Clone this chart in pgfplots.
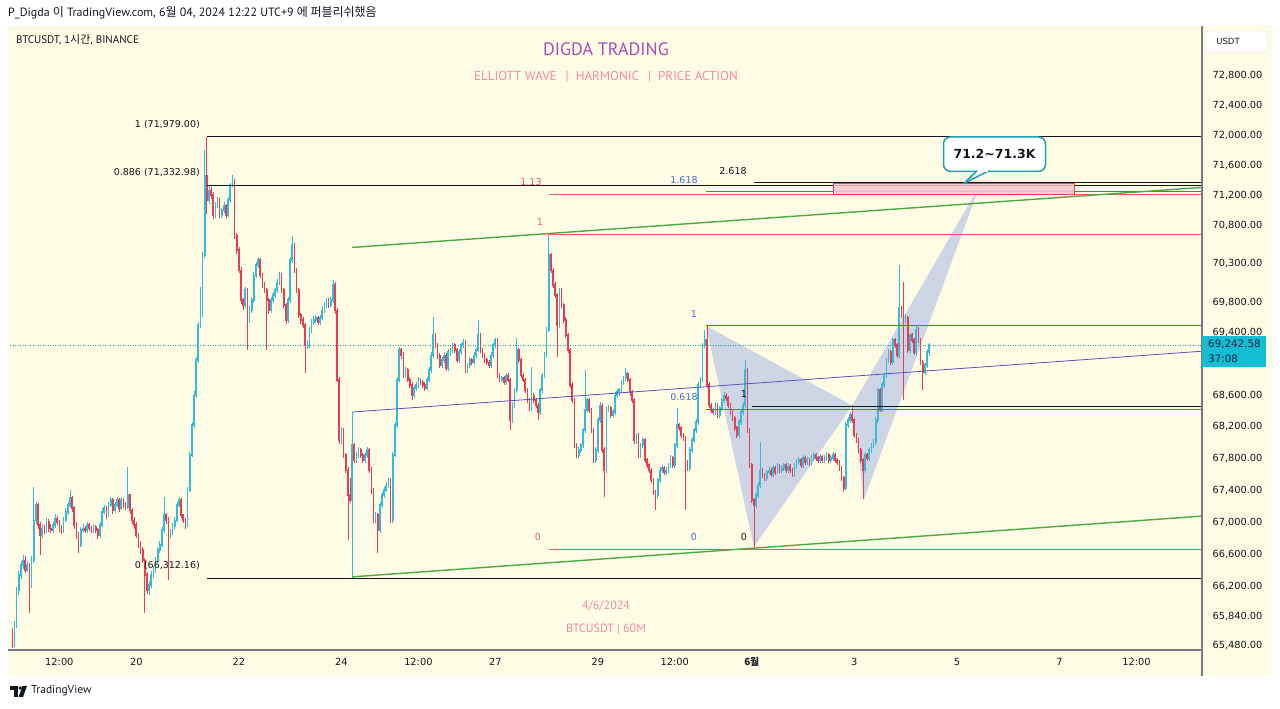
\documentclass[border=0pt]{standalone}
\usepackage{pgfplots}
\pgfplotsset{compat=1.18}
\usepackage{pgfplotstable}
\usepackage{fontspec}
\setmainfont{PT Sans}
\newfontfamily\dejavu{DejaVu Sans}
\newfontfamily\cjk{Noto Sans CJK KR}

\definecolor{cream}{RGB}{254,252,228}
\definecolor{upc}{RGB}{54,188,216}
\definecolor{dnc}{RGB}{230,62,84}
\definecolor{ink}{RGB}{19,23,34}
\definecolor{axgray}{RGB}{120,123,134}
\definecolor{fibred}{RGB}{232,96,112}
\definecolor{fibblue}{RGB}{70,110,215}
\definecolor{chgreen}{RGB}{76,170,70}
\definecolor{purp}{RGB}{90,80,190}
\definecolor{harm}{RGB}{190,200,230}
\definecolor{tealc}{RGB}{34,160,178}
\definecolor{pricebox}{RGB}{20,188,212}
\definecolor{priceink}{RGB}{18,38,58}
\definecolor{titlec}{RGB}{166,78,180}
\definecolor{pinkc}{RGB}{240,140,165}
\definecolor{zonefill}{RGB}{248,196,206}
\definecolor{zonedraw}{RGB}{214,70,100}

\newcommand\nf{\dejavu\fontsize{9.5}{11}\selectfont}
\newcommand\af{\dejavu\fontsize{9.8}{11}\selectfont}
\def\nanstr{nan}

% hourly candles, t = hours from 20 May 00:00
\pgfplotstableread{
t o hi lo c
-58 65640 65700 65450 65500
-57 65500 65780 65460 65730
-56 65730 66200 65700 66159
-55 66159 66400 66100 66344
-54 66344 66520 66300 66467
-53 66467 66600 66420 66529
-52 66529 66580 66360 66405
-51 66405 66520 66380 66467
-50 66467 66500 65877 66220
-49 66220 66580 66180 66529
-48 66529 67438 66500 67025
-47 67025 67260 66980 67212
-46 67212 67240 66920 66963
-45 66963 67000 66591 66839
-44 66839 66980 66800 66926
-43 66926 66960 66850 66901
-42 66901 67050 66870 67000
-41 67000 67040 66880 66926
-40 66926 66970 66860 66901
-39 66901 67010 66870 66963
-38 66963 67100 66930 67050
-37 67050 67080 66960 67000
-36 67000 67030 66880 66926
-35 66926 66960 66850 66901
-34 66901 67070 66870 67025
-33 67025 67170 67000 67125
-32 67125 67260 67090 67212
-31 67212 67400 67180 67300
-30 67300 67330 67130 67175
-29 67175 67200 66920 66963
-28 66963 67000 66790 66839
-27 66839 66880 66616 66715
-26 66715 66940 66690 66901
-25 66901 66980 66880 66926
-24 66926 66950 66860 66901
-23 66901 67010 66870 66963
-22 66963 66990 66890 66926
-21 66926 66950 66860 66901
-20 66901 66980 66870 66938
-19 66938 66960 66860 66901
-18 66901 66930 66790 66839
-17 66839 67000 66810 66963
-16 66963 67170 66940 67125
-15 67125 67220 67100 67175
-14 67175 67200 67040 67087
-13 67087 67260 67060 67212
-12 67212 67320 67190 67275
-11 67275 67300 67110 67150
-10 67150 67250 67120 67212
-9 67212 67320 67190 67275
-8 67275 67300 67130 67175
-7 67175 67320 67150 67275
-6 67275 67300 67170 67212
-5 67212 67250 67150 67187
-4 67187 67690 67160 67337
-3 67337 67360 67110 67150
-2 67150 67180 66980 67025
-1 67025 67060 66920 66963
0 66963 67000 66800 66839
1 66839 66870 66680 66715
2 66715 66760 66610 66653
3 66653 66690 66490 66529
4 66529 66560 65877 66344
5 66344 66380 66110 66159
6 66159 66270 66100 66220
7 66220 66390 66190 66344
8 66344 66450 66310 66405
9 66405 66570 66370 66529
10 66529 66690 66490 66653
11 66653 66760 66620 66715
12 66715 66940 66690 66901
13 66901 67312 66870 67087
14 67087 67120 66980 67025
15 67025 67060 66282 66839
16 66839 66910 66800 66876
17 66876 66990 66840 66950
18 66950 67070 66920 67025
19 67025 67250 67000 67212
20 67212 67320 67190 67275
21 67275 67300 67050 67087
22 67087 67110 66990 67025
23 67025 67050 66920 66963
24 66963 67440 66940 67400
25 67400 67880 67370 67840
26 67840 68260 67810 68220
27 68220 68650 68190 68601
28 68601 69090 68570 69049
29 69049 69540 69010 69500
30 69500 69992 69460 69694
31 69694 70450 69600 70410
32 70410 71797 70380 71465
33 71465 71979 70950 71130
34 71130 71330 71090 71266
35 71266 71300 71150 71200
36 71200 71240 70880 70935
37 70935 71110 70900 71067
38 71067 71180 71030 71134
39 71134 71160 70890 70935
40 70935 71040 70900 71001
41 71001 71110 70970 71067
42 71067 71090 70890 70935
43 70935 71180 70910 71134
44 71134 71370 71100 71332
45 71332 71465 71300 71398
46 71398 71420 70620 70672
47 70672 70700 70430 70476
48 70476 70510 70170 70214
49 70214 70250 69780 69823
50 69823 69860 69700 69758
51 69758 70000 69720 69953
52 69953 69990 69177 69564
53 69564 69740 69530 69694
54 69694 69870 69660 69823
55 69823 70190 69790 70148
56 70148 70320 70110 70280
57 70280 70385 70240 70345
58 70345 70370 70110 70148
59 70148 70170 69980 70018
60 70018 70050 69910 69953
61 69953 69990 69177 69823
62 69823 69850 69650 69694
63 69694 69870 69660 69823
64 69823 69930 69790 69888
65 69888 69990 69850 69953
66 69953 70100 69920 70057
67 70057 70190 70020 70148
68 70148 70170 69910 69953
69 69953 69980 69720 69758
70 69758 69790 69520 69564
71 69564 69870 69530 69823
72 69823 70390 69790 70345
73 70345 70672 70310 70541
74 70541 70570 70170 70214
75 70214 70240 69910 69953
76 69953 69980 69590 69629
77 69629 69660 69520 69564
78 69564 69600 69460 69500
79 69500 69530 68882 69241
80 69241 69300 69190 69241
81 69241 69480 69210 69435
82 69435 69580 69400 69538
83 69538 69610 69500 69564
84 69564 69630 69530 69590
85 69590 69620 69500 69538
86 69538 69630 69500 69590
87 69590 69740 69560 69694
88 69694 69800 69660 69758
89 69758 69860 69720 69823
90 69823 69850 69720 69758
91 69758 69870 69730 69823
92 69823 70083 69790 70018
93 70018 70050 69650 69694
94 69694 69720 68760 68793
95 68793 68830 67990 68030
96 68030 68200 67990 68156
97 68156 68190 67800 67840
98 67840 67870 67610 67651
99 67651 67690 66777 67337
100 67337 67560 67240 67275
101 67275 68385 66312 67966
102 67966 68000 67740 67777
103 67777 67880 67740 67840
104 67840 67940 67800 67903
105 67903 67930 67800 67840
106 67840 67870 67740 67777
107 67777 67880 67740 67840
108 67840 67940 67800 67903
109 67903 67930 67610 67651
110 67651 67690 67360 67400
111 67400 67430 66990 67025
112 67025 67130 66990 67087
113 67087 67120 66616 66901
114 66901 67250 66870 67212
115 67212 67370 67180 67337
116 67337 67440 67300 67400
117 67400 67500 67370 67463
118 67463 67560 67430 67526
119 67526 67560 66990 67025
120 67025 67880 66990 67840
121 67840 68260 67810 68220
122 68220 68830 68190 68793
123 68793 69220 68760 69177
124 69177 69210 69070 69113
125 69113 69150 68820 68856
126 68856 68960 68820 68920
127 68920 68950 68760 68793
128 68793 68830 68690 68729
129 68729 68760 68537 68601
130 68601 68730 68570 68690
131 68690 68770 68650 68729
132 68729 68830 68700 68793
133 68793 68820 68730 68767
134 68767 68800 68690 68729
135 68729 68760 68650 68690
136 68690 68830 68660 68793
137 68793 68960 68760 68920
138 68920 69150 68890 69113
139 69113 69603 69080 69370
140 69370 69400 69200 69241
141 69241 69270 69070 69113
142 69113 69140 68950 68985
143 68985 69090 68950 69049
144 69049 69150 69010 69113
145 69113 69140 68910 68946
146 68946 69190 68910 69151
147 69151 69210 69110 69177
148 69177 69280 69140 69241
149 69241 69270 69140 69177
150 69177 69210 69010 69049
151 69049 69190 69010 69151
152 69151 69280 69120 69241
153 69241 69320 69200 69280
154 69280 69310 68880 68920
155 68920 69020 68890 68985
156 68985 69090 68950 69049
157 69049 69080 68990 69023
158 69023 69150 68990 69113
159 69113 69210 69080 69177
160 69177 69564 69150 69370
161 69370 69400 69140 69177
162 69177 69210 69080 69113
163 69113 69140 69010 69049
164 69049 69080 68990 69023
165 69023 69050 68950 68985
166 68985 69150 68950 69113
167 69113 69280 69080 69241
168 69241 69340 69210 69306
169 69306 69330 68820 68856
170 68856 68890 68760 68793
171 68793 68850 68760 68818
172 68818 68840 68730 68767
173 68767 68890 68740 68856
174 68856 68880 68760 68793
175 68793 68820 68156 68283
176 68283 68510 68250 68474
177 68474 68700 68440 68665
178 68665 69331 68630 69177
179 69177 69200 69010 69049
180 69049 69080 68820 68856
181 68856 68880 68760 68793
182 68793 68820 68630 68665
183 68665 68700 68500 68537
184 68537 68570 68400 68436
185 68436 68959 68400 68601
186 68601 68630 68500 68537
187 68537 68570 68440 68474
188 68474 68500 68283 68385
189 68385 68700 68350 68665
190 68665 68890 68630 68856
191 68856 69150 68820 69113
192 69113 69470 69080 69435
193 69435 70688 69410 70410
194 70410 70440 70180 70214
195 70214 70240 69980 70018
196 70018 70050 69850 69888
197 69888 69920 69087 69500
198 69500 69990 69460 69953
199 69953 69980 69720 69758
200 69758 69790 69530 69564
201 69564 69600 69330 69370
202 69370 69400 69140 69177
203 69177 69210 68690 68729
204 68729 68760 68500 68537
205 68537 68570 67930 67966
206 67966 68000 67800 67840
207 67840 67940 67800 67903
208 67903 68000 67870 67966
209 67966 68190 67930 68156
210 68156 68920 68120 68410
211 68410 68570 68380 68537
212 68537 68570 68370 68410
213 68410 68440 68120 68156
214 68156 68190 67740 67777
215 67777 67940 67740 67903
216 67903 68320 67870 68283
217 68283 68510 68250 68474
218 68474 68500 67870 67903
219 67903 67940 67312 67651
220 67651 68450 67620 68410
221 68410 68480 68380 68436
222 68436 68470 68310 68347
223 68347 68420 68310 68385
224 68385 68640 68350 68601
225 68601 68680 68570 68640
226 68640 68700 68600 68665
227 68665 68800 68630 68767
228 68767 68850 68730 68818
229 68818 68946 68780 68870
230 68870 68900 68760 68793
231 68793 68820 68600 68640
232 68640 68670 68500 68537
233 68537 68570 67990 68030
234 68030 68130 67990 68093
235 68093 68120 67800 67840
236 67840 68000 67800 67966
237 67966 68070 67930 68030
238 68030 68060 67740 67777
239 67777 67800 67680 67714
240 67714 67740 67610 67651
241 67651 67680 67490 67526
242 67526 67560 67340 67375
243 67375 67400 67150 67337
244 67337 67560 67300 67526
245 67526 67690 67490 67651
246 67651 67710 67620 67676
247 67676 67700 67590 67626
248 67626 67690 67590 67651
249 67651 67750 67620 67714
250 67714 67840 67680 67802
251 67802 67830 67680 67714
252 67714 68000 67680 67966
253 67966 68436 67930 68220
254 68220 68250 68150 68182
255 68182 68210 68060 68093
256 68093 68120 68020 68055
257 68055 68080 67150 67751
258 67751 67780 67640 67676
259 67676 67940 67640 67903
260 67903 68070 67870 68030
261 68030 68190 68000 68156
262 68156 68290 68120 68258
263 68258 68770 68220 68729
264 68729 68830 68700 68793
265 68793 69280 68760 69241
266 69241 69435 69200 69306
267 69306 69495 68690 68729
268 68729 68760 68440 68474
269 68474 68500 68370 68410
270 68410 68440 68350 68385
271 68385 68510 68350 68474
272 68474 68500 68310 68347
273 68347 68470 68310 68436
274 68436 68570 68400 68537
275 68537 68640 68500 68601
276 68601 68630 68530 68563
277 68563 68590 68440 68474
278 68474 68500 68350 68385
279 68385 68410 68270 68309
280 68309 68340 68150 68182
281 68182 68210 68060 68093
282 68093 68290 68060 68258
283 68258 68420 68220 68385
284 68385 68510 68350 68474
285 68474 69049 68440 68920
286 68920 68950 68120 68156
287 68156 68190 67680 67714
288 67714 67740 67240 67275
289 67275 67310 66690 67212
290 67212 67370 67180 67337
291 67337 67500 67300 67463
292 67463 68005 67430 67651
293 67651 67680 67550 67588
294 67588 67620 67520 67551
295 67551 67660 67520 67626
296 67626 67690 67600 67651
297 67651 67680 67570 67601
298 67601 67710 67570 67676
299 67676 67700 67590 67626
300 67626 67740 67600 67702
301 67702 67730 67620 67651
302 67651 67710 67620 67676
303 67676 67750 67650 67714
304 67714 67740 67620 67651
305 67651 67740 67620 67702
306 67702 67730 67620 67651
307 67651 67680 67570 67601
308 67601 67740 67570 67702
309 67702 67790 67670 67752
310 67752 67810 67720 67777
311 67777 67800 67680 67714
312 67714 67840 67680 67802
313 67802 67830 67720 67752
314 67752 67810 67720 67777
315 67777 67800 67700 67739
316 67739 67840 67710 67802
317 67802 67880 67770 67840
318 67840 67870 67770 67802
319 67802 67830 67740 67777
320 67777 67850 67740 67815
321 67815 67840 67740 67777
322 67777 67840 67740 67802
323 67802 67880 67770 67840
324 67840 67870 67740 67777
325 67777 67840 67740 67802
326 67802 67880 67770 67840
327 67840 67870 67740 67777
328 67777 67800 67720 67752
329 67752 67780 67640 67676
330 67676 67700 67520 67551
331 67551 67580 67375 67425
332 67425 68260 67400 68220
333 68220 68320 68190 68283
334 68283 68380 68250 68347
335 68347 68474 68250 68283
336 68283 68310 68060 68093
337 68093 68120 68000 68030
338 68030 68060 67870 67903
339 67903 67930 67740 67777
340 67777 67800 67287 67651
341 67651 67880 67620 67840
342 67840 67870 67770 67802
343 67802 67940 67770 67903
344 67903 68000 67870 67966
345 67966 68040 67930 68005
346 68005 68320 67970 68283
347 68283 68700 68250 68665
348 68665 68690 68380 68410
349 68410 68760 68380 68729
350 68729 68890 68700 68856
351 68856 69080 68820 69049
352 69049 69190 69010 69151
353 69151 69180 68990 69023
354 69023 69340 68990 69306
355 69306 69330 69210 69241
356 69241 69270 69080 69113
357 69113 70280 69080 69720
358 69720 69750 69590 69629
359 69629 70057 68537 69564
360 69564 69650 69530 69590
361 69590 69620 69140 69177
362 69177 69400 69140 69370
363 69370 69400 69270 69306
364 69306 69330 69120 69151
365 69151 69500 69120 69435
366 69435 69470 69270 69306
367 69306 69340 68990 69023
368 69023 69050 68665 68895
369 68895 69020 68860 68985
370 68985 69190 68950 69151
371 69151 69280 69100 69242.58
}\candles

% split the candles into up/down wick and body segments (nan = gap)
\def\ipart#1.#2\relax{#1}
\gdef\wup{}\gdef\wdn{}\gdef\bup{}\gdef\bdn{}
\pgfplotstablegetrowsof{\candles}
\pgfmathtruncatemacro\lastrow{\pgfplotsretval-1}
\foreach \i in {0,...,\lastrow}{%
  \pgfplotstablegetelem{\i}{t}\of\candles \let\ct\pgfplotsretval
  \pgfplotstablegetelem{\i}{o}\of\candles \let\co\pgfplotsretval
  \pgfplotstablegetelem{\i}{hi}\of\candles \let\chi\pgfplotsretval
  \pgfplotstablegetelem{\i}{lo}\of\candles \let\clo\pgfplotsretval
  \pgfplotstablegetelem{\i}{c}\of\candles \let\cc\pgfplotsretval
  \edef\ci{\expandafter\ipart\cc.\relax}%
  \edef\oi{\expandafter\ipart\co.\relax}%
  \ifnum\ci<\oi\relax
    \xdef\wdn{\wdn (\ct,\clo) (\ct,\chi) (\ct,nan)}%
    \xdef\bdn{\bdn (\ct,\co) (\ct,\cc) (\ct,nan)}%
  \else
    \xdef\wup{\wup (\ct,\clo) (\ct,\chi) (\ct,nan)}%
    \xdef\bup{\bup (\ct,\co) (\ct,\cc) (\ct,nan)}%
  \fi
}

\begin{document}
\begin{tikzpicture}[x=1pt,y=1pt]
% page and chart background
\fill[white] (0,0) rectangle (1280,709);
\fill[cream] (8,33) rectangle (1272,683);

\begin{axis}[
  at={(10pt,59pt)}, anchor=south west,
  width=1192pt, height=623pt, scale only axis,
  % logarithmic price scale, as on the reference
  y coord trafo/.code={%
    \edef\argtmp{#1}%
    \ifx\argtmp\nanstr
      \def\pgfmathresult{nan}%
    \else
      \begingroup
      \pgfkeys{/pgf/fpu=true,/pgf/fpu/output format=fixed}%
      \pgfmathparse{ln(#1)}%
      \xdef\lntmp{\pgfmathresult}%
      \endgroup
      \let\pgfmathresult\lntmp
    \fi},
  y coord inv trafo/.code={%
    \begingroup
    \pgfkeys{/pgf/fpu=true,/pgf/fpu/output format=fixed}%
    \pgfmathparse{exp(#1)}%
    \xdef\lntmp{\pgfmathresult}%
    \endgroup
    \let\pgfmathresult\lntmp},
  xmin=-59.1, xmax=498.69, ymin=65426, ymax=73458,
  axis line style={draw=none}, tick style={draw=none},
  unbounded coords=jump,
  xtick={-36,0,48,96,132,168,216,252,288,336,384,432,468},
  xticklabels={12:00,20,22,24,12:00,27,29,12:00,{\cjk\bfseries 6월},3,5,7,12:00},
  ytick={65480,65840,66200,66600,67000,67400,67800,68200,68600,69400,69800,70300,70800,71200,71600,72000,72400,72800},
  yticklabels={{65,480.00},{65,840.00},{66,200.00},{66,600.00},{67,000.00},{67,400.00},{67,800.00},{68,200.00},{68,600.00},{69,400.00},{69,800.00},{70,300.00},{70,800.00},{71,200.00},{71,600.00},{72,000.00},{72,400.00},{72,800.00}},
  yticklabel pos=right,
  tick label style={font=\af, text=ink},
  x tick label style={anchor=center, yshift=-12pt},
  y tick label style={anchor=west, xshift=7pt},
]
% harmonic pattern
\addplot[fill=harm, draw=none, fill opacity=0.75, forget plot]
  coordinates {(266.6,69495) (289.0,66690) (335.0,68474)} -- cycle;
\addplot[fill=harm, draw=none, fill opacity=0.75, forget plot]
  coordinates {(335.0,68474) (340.5,67287) (394.8,71332)} -- cycle;

% current price line
\addplot[tealc, line width=0.6pt, dash pattern=on 1pt off 1.5pt, forget plot]
  coordinates {(-59.1,69242.58) (498.69,69242.58)};

% candles
\edef\drawcandles{%
  \noexpand\addplot[upc, line width=0.7pt, forget plot] coordinates {\wup};
  \noexpand\addplot[dnc, line width=0.7pt, forget plot] coordinates {\wdn};
  \noexpand\addplot[upc, line width=1.7pt, line cap=rect, forget plot] coordinates {\bup};
  \noexpand\addplot[dnc, line width=1.7pt, line cap=rect, forget plot] coordinates {\bdn};
}
\drawcandles

% fib levels (black)
\addplot[ink, line width=0.8pt] coordinates {(33.2,71979) (498.69,71979)};
\addplot[ink, line width=0.8pt] coordinates {(33.2,71332.98) (498.69,71332.98)};
\addplot[ink, line width=0.8pt] coordinates {(33.2,66312.16) (498.69,66312.16)};
\addplot[ink, line width=0.8pt] coordinates {(288.1,68460) (498.69,68460)};
\addplot[ink, line width=0.8pt] coordinates {(289.0,71362) (498.69,71362)};
% fib levels (red)
\addplot[fibred, line width=0.8pt] coordinates {(193.1,70688) (498.69,70688)};
\addplot[fibred, line width=0.8pt] coordinates {(193.1,71210) (498.69,71210)};
\addplot[fibred, line width=0.8pt] coordinates {(193.1,66660) (498.69,66660)};
% fib levels (blue)
\addplot[fibblue, line width=0.8pt] coordinates {(266.6,69495) (498.69,69495)};
\addplot[fibblue, line width=0.8pt] coordinates {(266.6,68425) (498.69,68425)};
\addplot[fibblue, line width=0.8pt] coordinates {(266.6,71245) (498.69,71245)};

% target zone
\addplot[fill=zonefill, draw=zonedraw, line width=0.7pt, fill opacity=0.85]
  coordinates {(326.4,71358) (438.8,71358) (438.8,71212) (326.4,71212)} -- cycle;

% channel and trend line
\addplot[chgreen, line width=1.4pt] coordinates {(100.9,70515) (498.69,71306)};
\addplot[chgreen, line width=1.4pt] coordinates {(100.9,66319) (498.69,67075)};
\addplot[purp, line width=0.8pt] coordinates {(100.9,68385) (498.69,69164)};
\end{axis}

% axis borders
\draw[axgray, line width=1.2pt] (8,59) -- (1202,59);
\draw[axgray, line width=1.2pt] (1202,33) -- (1202,683);

% header
\node[anchor=west, inner sep=0pt, text=ink, font=\fontsize{12}{14}\selectfont] at (8,696)
  {P\_Digda {\cjk 이} TradingView.com, 6{\cjk 월} 04, 2024 12:22 UTC+9 {\cjk 에 퍼블리쉬했음}};
\node[anchor=west, inner sep=0pt, text=ink, font=\fontsize{11}{13}\selectfont] at (16,669)
  {BTCUSDT, 1{\cjk 시간}, BINANCE};

% titles
\node[text=titlec, font=\fontsize{18}{21}\selectfont] at (606,660) {DIGDA TRADING};
\node[text=pinkc, font=\fontsize{13}{15}\selectfont] at (606,632)
  {ELLIOTT WAVE \ \,|\ \ HARMONIC \ \,|\ \ PRICE ACTION};
\node[text=pinkc, font=\fontsize{12}{14}\selectfont] at (606,103) {4/6/2024};
\node[text=pinkc, font=\fontsize{12}{14}\selectfont] at (606,80) {BTCUSDT | 60M};

% fib labels
\node[anchor=east, inner sep=0pt, text=ink, font=\nf] at (200,584) {1 (71,979.00)};
\node[anchor=east, inner sep=0pt, text=ink, font=\nf] at (200,536) {0.886 (71,332.98)};
\node[anchor=east, inner sep=0pt, text=ink, font=\nf] at (200,143) {0 (66,312.16)};
\node[inner sep=0pt, text=fibred, font=\nf] at (531,527) {1.13};
\node[inner sep=0pt, text=fibred, font=\nf] at (540,487) {1};
\node[inner sep=0pt, text=fibred, font=\nf] at (538,172) {0};
\node[inner sep=0pt, text=fibblue, font=\nf] at (684,529) {1.618};
\node[inner sep=0pt, text=fibblue, font=\nf] at (694,395) {1};
\node[inner sep=0pt, text=fibblue, font=\nf] at (684,312) {0.618};
\node[inner sep=0pt, text=fibblue, font=\nf] at (694,172) {0};
\node[inner sep=0pt, text=ink, font=\nf] at (733,538) {2.618};
\node[inner sep=0pt, text=ink, font=\nf] at (744,315) {1};
\node[inner sep=0pt, text=ink, font=\nf] at (744,172) {0};

% callout
\filldraw[fill=white, draw=tealc, line width=1.5pt, rounded corners=7pt]
  (943.5,537.6) rectangle (1045.5,572);
\filldraw[fill=white, draw=tealc, line width=1.5pt, line join=round]
  (977,538.3) -- (963.8,525.5) -- (989,538.3);
\fill[white] (978.2,536.9) rectangle (987.8,539.3);
\node[text=ink, font=\dejavu\bfseries\fontsize{12.5}{15}\selectfont] at (994.5,555) {71.2\char`\~71.3K};

% price scale extras
\filldraw[fill=white, draw=black!12, rounded corners=3pt] (1206,678) rectangle (1267,657);
\node[text=ink, font=\dejavu\fontsize{8.5}{10}\selectfont] at (1228,668) {USDT};
\fill[pricebox] (1202,373) rectangle (1266,342);
\node[anchor=west, inner sep=0pt, text=priceink, font=\dejavu\fontsize{10.3}{12}\selectfont] at (1208,365) {69,242.58};
\node[anchor=west, inner sep=0pt, text=priceink, font=\dejavu\fontsize{10.3}{12}\selectfont] at (1208,350.5) {37:08};

% footer logo
\fill[ink] (10,23) rectangle (17.5,19);
\fill[ink] (13.5,19) rectangle (17.5,12);
\fill[ink] (20.3,21) circle (1.9);
\fill[ink] (22.5,23) -- (27,23) -- (23,12) -- (18.6,12) -- cycle;
\node[anchor=west, inner sep=0pt, text=ink, font=\fontsize{11.5}{13}\selectfont] at (31,18) {TradingView};
\end{tikzpicture}
\end{document}
